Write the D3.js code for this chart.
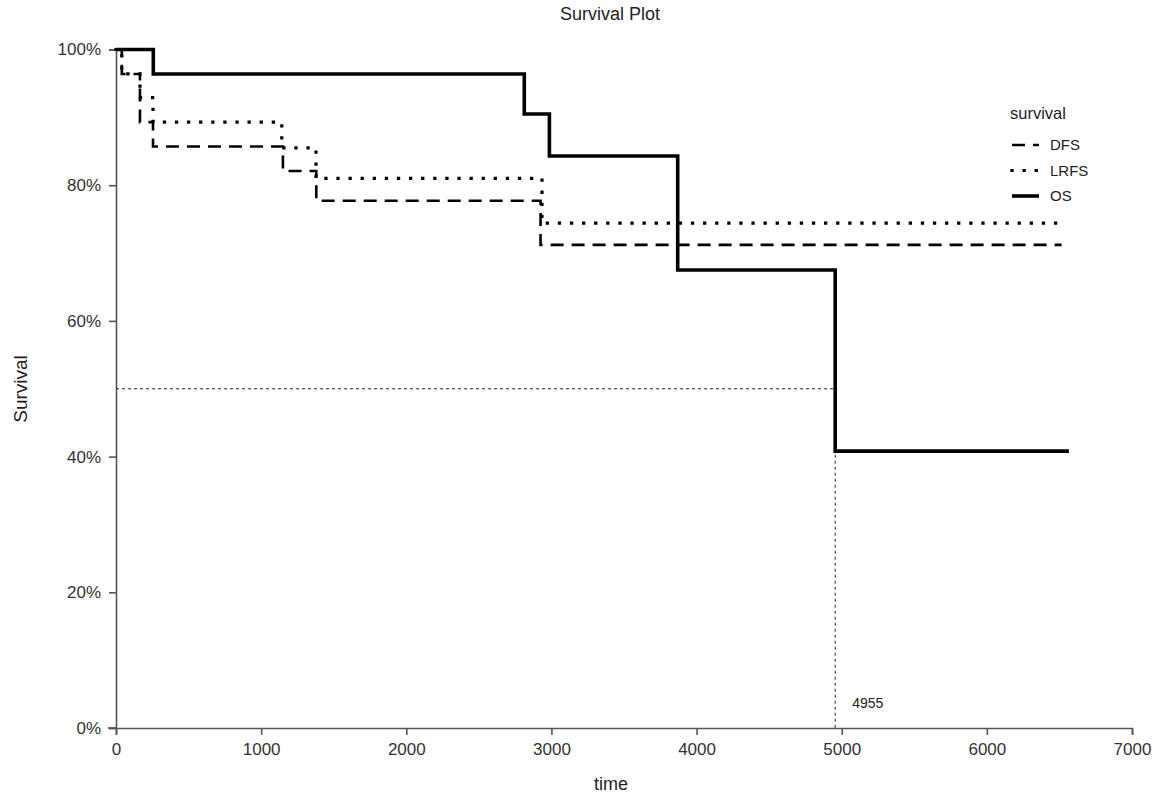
<!DOCTYPE html>
<html>
<head>
<meta charset="utf-8">
<script src="https://cdn.jsdelivr.net/npm/d3@7"></script>
<style>
  html, body { margin: 0; padding: 0; background: #fff; }
  svg { display: block; font-family: "Liberation Sans", Arial, sans-serif; }
</style>
</head>
<body>
<svg id="chart" width="1156" height="796"></svg>
<script>
// ---- data ----
const dfsTime  = [0, 40, 165, 255, 1150, 1380, 2925, 6515];
const dfsSurv  = [1, 0.964, 0.893, 0.857, 0.821, 0.777, 0.712, 0.712];
const lrfsTime = [0, 40, 165, 255, 1142, 1378, 2935, 6515];
const lrfsSurv = [1, 0.964, 0.929, 0.893, 0.855, 0.810, 0.744, 0.744];
const osTime   = [0, 257, 2813, 2986, 3870, 4955, 6565];
const osSurv   = [1, 0.964, 0.905, 0.843, 0.675, 0.408, 0.408];
const seriesNames = ["DFS", "LRFS", "OS"];
const xTicks = [0, 1000, 2000, 3000, 4000, 5000, 6000, 7000];
const yTicks = [0, 0.2, 0.4, 0.6, 0.8, 1.0];
const medianTime = 4955;
const medianLevel = 0.5;

// ---- layout ----
const svg = d3.select("#chart");
const x = d3.scaleLinear().domain([0, 7000]).range([116, 1132]);
const y = d3.scaleLinear().domain([0, 1]).range([728, 49.5]);

const styles = {
  DFS:  { width: 2.6, dash: "13,8", cap: "butt" },
  LRFS: { width: 3.2, dash: "0.1,12", cap: "square" },
  OS:   { width: 3.6, dash: null, cap: "butt" }
};

const series = [
  { name: "DFS",  t: dfsTime,  s: dfsSurv },
  { name: "LRFS", t: lrfsTime, s: lrfsSurv },
  { name: "OS",   t: osTime,   s: osSurv }
];

// axes
const axisColor = "#555";
const xAxis = d3.axisBottom(x).tickValues(xTicks).tickFormat(d3.format("d")).tickSize(7).tickPadding(8);
const yAxis = d3.axisLeft(y).tickValues(yTicks).tickFormat(d3.format(".0%")).tickSize(7).tickPadding(8);

const gx = svg.append("g").attr("transform", "translate(0,728)").call(xAxis);
const gy = svg.append("g").attr("transform", "translate(116,0)").call(yAxis);
[gx, gy].forEach(g => {
  g.select(".domain").attr("stroke", axisColor).attr("stroke-width", 1.6);
  g.selectAll(".tick line").attr("stroke", axisColor).attr("stroke-width", 1.6);
  g.selectAll(".tick text").attr("fill", "#333").style("font-size", "17px").style("font-family", "Liberation Sans, Arial, sans-serif");
});
// extend x axis line slightly left like reference
svg.append("line").attr("x1", 108).attr("x2", 116).attr("y1", 728).attr("y2", 728)
  .attr("stroke", axisColor).attr("stroke-width", 1.6);

// median reference lines
svg.append("line")
  .attr("x1", x(0)).attr("x2", x(medianTime))
  .attr("y1", y(medianLevel)).attr("y2", y(medianLevel))
  .attr("stroke", "#222").attr("stroke-width", 1).attr("stroke-dasharray", "3,3");
svg.append("line")
  .attr("x1", x(medianTime)).attr("x2", x(medianTime))
  .attr("y1", y(medianLevel)).attr("y2", y(0))
  .attr("stroke", "#222").attr("stroke-width", 1).attr("stroke-dasharray", "3,3");
svg.append("text")
  .attr("x", x(medianTime) + 17).attr("y", 708)
  .attr("fill", "#222").style("font-size", "14px")
  .text(String(medianTime));

// survival curves
const line = d3.line().x(d => x(d[0])).y(d => y(d[1])).curve(d3.curveStepAfter);
series.forEach(sr => {
  const pts = sr.t.map((t, i) => [t, sr.s[i]]);
  const st = styles[sr.name];
  const p = svg.append("path")
    .datum(pts)
    .attr("d", line)
    .attr("fill", "none")
    .attr("stroke", "#000")
    .attr("stroke-width", st.width)
    .attr("stroke-linecap", st.cap)
    .attr("stroke-linejoin", "miter");
  if (st.dash) p.attr("stroke-dasharray", st.dash);
});

// title and axis labels
svg.append("text").attr("x", 610).attr("y", 20).attr("text-anchor", "middle")
  .attr("fill", "#222").style("font-size", "18px").text("Survival Plot");
svg.append("text").attr("x", 611).attr("y", 790).attr("text-anchor", "middle")
  .attr("fill", "#222").style("font-size", "18px").text("time");
svg.append("text").attr("transform", "translate(27,389) rotate(-90)").attr("text-anchor", "middle")
  .attr("fill", "#222").style("font-size", "19px").text("Survival");

// legend
const lg = svg.append("g");
lg.append("text").attr("x", 1010).attr("y", 119).attr("fill", "#222").style("font-size", "16.5px").text("survival");
const legendY = d3.scalePoint().domain(seriesNames).range([145, 196]);
seriesNames.forEach(n => {
  const st = styles[n];
  const l = lg.append("line")
    .attr("x1", 1012).attr("x2", 1039)
    .attr("y1", legendY(n)).attr("y2", legendY(n))
    .attr("stroke", "#000").attr("stroke-width", st.width)
    .attr("stroke-linecap", st.cap);
  if (st.dash) l.attr("stroke-dasharray", st.dash);
  lg.append("text").attr("x", 1050).attr("y", legendY(n) + 5)
    .attr("fill", "#222").style("font-size", "15px").text(n);
});
</script>
</body>
</html>
